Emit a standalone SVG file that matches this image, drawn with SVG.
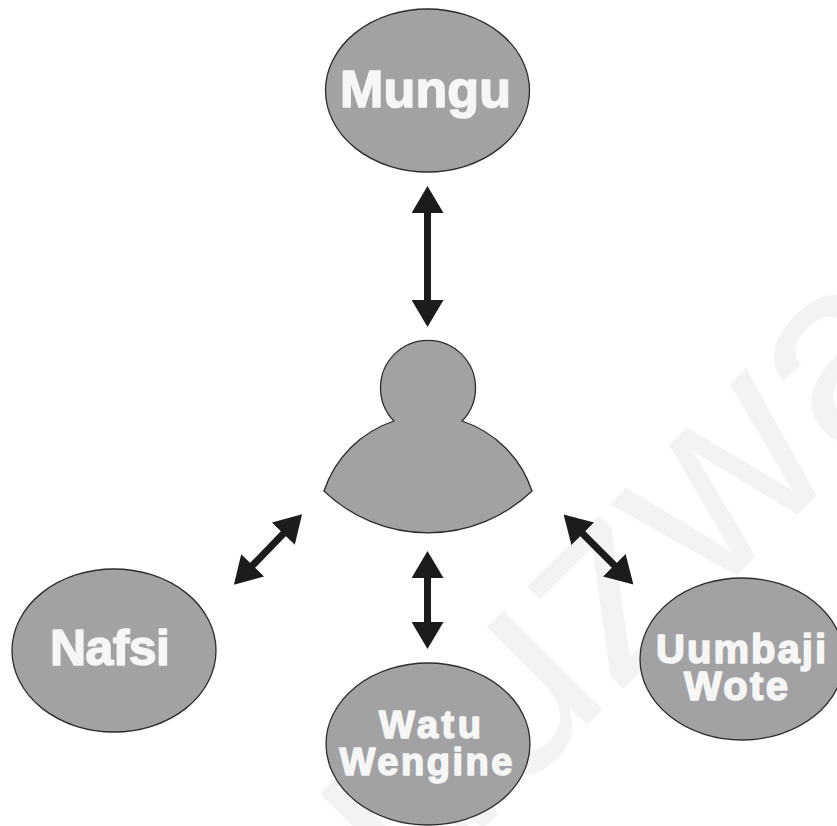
<svg xmlns="http://www.w3.org/2000/svg" width="837" height="826" viewBox="0 0 837 826">
<style>
.n{fill:#a2a2a4;stroke:#2b2b2b;stroke-width:1.3}
.t{font-family:"Liberation Sans",Arial,sans-serif;font-weight:700;fill:#f6f6f6;text-anchor:middle;stroke:#f6f6f6;stroke-width:1.6;stroke-linejoin:round}
.c{stroke:#1c1c1c;stroke-width:7;fill:none;marker-start:url(#h);marker-end:url(#h)}
.w{font-family:"Liberation Sans",Arial,sans-serif;font-size:265px;font-weight:400;fill:#f3f3f3}
</style>
<defs>
<marker id="h" viewBox="0 0 27 32" refX="1" refY="16" markerWidth="27" markerHeight="32" markerUnits="userSpaceOnUse" orient="auto-start-reverse">
<path d="M0 0L27 16L0 32Z" fill="#1c1c1c"/>
</marker>
</defs>
<rect width="837" height="826" fill="#fff"/>
<text class="w" transform="translate(407 905) rotate(-45)">uuzwa</text>
<g id="connectors">
<path class="c" d="M427.500 212V301"/>
<path class="c" d="M427.500 577V623"/>
<path class="c" d="M284 533L252 566"/>
<path class="c" d="M582 533L615 566"/>
</g>
<g id="mungu"><ellipse class="n" cx="427.500" cy="90.500" rx="102" ry="81.500"/><text class="t" x="425.500" y="107" font-size="52" textLength="171" lengthAdjust="spacing">Mungu</text></g>
<g id="person"><path class="n" d="M394 421A47.500 47.500 0 1 1 462 421A110 110 0 0 1 532 491A150 150 0 0 1 324 491A110 110 0 0 1 394 421Z"/></g>
<g id="nafsi"><ellipse class="n" cx="114" cy="650.500" rx="102" ry="81.500"/><text class="t" x="110" y="665" font-size="50" textLength="120" lengthAdjust="spacing">Nafsi</text></g>
<g id="watu"><ellipse class="n" cx="428" cy="744" rx="102" ry="81"/><text class="t" x="430" y="738" font-size="38" textLength="102" lengthAdjust="spacing">Watu</text><text class="t" x="426" y="775" font-size="38" textLength="173" lengthAdjust="spacing">Wengine</text></g>
<g id="uumbaji"><ellipse class="n" cx="742" cy="659" rx="102" ry="81"/><text class="t" x="741" y="663" font-size="40" textLength="170" lengthAdjust="spacing">Uumbaji</text><text class="t" x="736" y="700" font-size="40" textLength="104" lengthAdjust="spacing">Wote</text></g>
</svg>
